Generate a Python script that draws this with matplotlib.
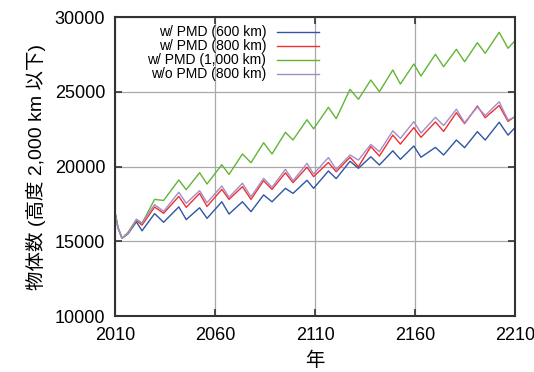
import matplotlib
matplotlib.use("Agg")
import matplotlib.pyplot as plt

plt.rcParams['font.family'] = ['Liberation Sans', 'Noto Sans CJK JP', 'DejaVu Sans']

# years of the turning points of each ~11-year cycle
years = [2010, 2011.5, 2013.5, 2016.5, 2020.7, 2023.5, 2029.8, 2034.3, 2041.9, 2045.6,
         2052.3, 2056, 2063.4, 2067, 2073.7, 2078, 2084.3, 2088.5, 2095.2, 2099,
         2106, 2109.3, 2116.7, 2120.6, 2127.5, 2131.7, 2137.9, 2142.2, 2148.9, 2152.7,
         2159.4, 2163, 2170.2, 2174.3, 2180.7, 2184.8, 2191.2, 2195.1, 2202.1, 2206.5, 2210]

pmd_600 = [16900, 15900, 15200, 15500, 16300, 15700, 16850, 16270, 17300, 16450,
           17240, 16530, 17640, 16820, 17640, 16980, 18100, 17640, 18540, 18200,
           19080, 18540, 19700, 19190, 20350, 19880, 20650, 20100, 21050, 20480,
           21370, 20620, 21280, 20770, 21770, 21260, 22330, 21770, 22960, 22100, 22600]

pmd_800 = [16900, 15900, 15200, 15550, 16400, 16080, 17290, 16870, 18000, 17270,
           18200, 17330, 18470, 17800, 18650, 17800, 19050, 18470, 19580, 18920,
           19950, 19320, 20270, 19650, 20620, 19990, 21330, 20700, 22100, 21500,
           22600, 21950, 22980, 22350, 23600, 22870, 24050, 23260, 24080, 23020, 23350]

pmd_1000 = [16900, 15900, 15200, 15600, 16470, 16200, 17800, 17730, 19100, 18450,
            19585, 18830, 20120, 19470, 20836, 20254, 21592, 20836, 22287, 21773,
            23130, 22520, 23960, 23200, 25164, 24495, 25786, 25004, 26455, 25518,
            26856, 26054, 27505, 26676, 27839, 27010, 28281, 27572, 28977, 27906, 28415]

no_pmd_800 = [16900, 15900, 15200, 15550, 16450, 16230, 17450, 17000, 18280, 17540,
              18385, 17580, 18700, 17940, 18880, 17980, 19210, 18610, 19810, 19050,
              20210, 19500, 20600, 19810, 20770, 20430, 21480, 20990, 22390, 21880,
              23000, 22240, 23290, 22740, 23830, 22930, 23980, 23410, 24330, 23110, 23310]

labels = ['w/ PMD (600 km)', 'w/ PMD (800 km)', 'w/ PMD (1,000 km)', 'w/o PMD (800 km)']
colors = ['#2f55a4', '#ee3030', '#62b535', '#a48ec9']

fig = plt.figure(figsize=(5.34, 3.72), dpi=100)
ax = fig.add_axes([0.2154, 0.1505, 0.749, 0.8038])

for series, lab, col in zip([pmd_600, pmd_800, pmd_1000, no_pmd_800], labels, colors):
    ax.plot(years, series, color=col, lw=1.0, label=lab)

ax.set_xlim(2010, 2210)
ax.set_ylim(10000, 30000)
ax.set_xticks([2010, 2060, 2110, 2160, 2210])
ax.set_yticks([10000, 15000, 20000, 25000, 30000])
ax.grid(True, color='#a8a8a8', lw=0.9)
ax.set_axisbelow(True)
ax.tick_params(direction='in', top=True, right=True, length=5, width=1.2,
               color='#333333', labelsize=13)
ax.tick_params(axis='x', pad=8)
ax.tick_params(axis='y', pad=7)
for sp in ax.spines.values():
    sp.set_color('#333333')
    sp.set_linewidth(1.5)

ax.set_xlabel('年', fontsize=14, labelpad=5)
ax.set_ylabel('物体数 (高度 2,000 km 以下)', fontsize=14, labelpad=6)

ax.legend(loc='upper right', bbox_to_anchor=(0.51, 0.972), frameon=False,
          markerfirst=False, fontsize=10, handlelength=3.0, handletextpad=0.8,
          labelspacing=0.0, borderpad=0, borderaxespad=0)

fig.savefig('out.png', dpi=100)
